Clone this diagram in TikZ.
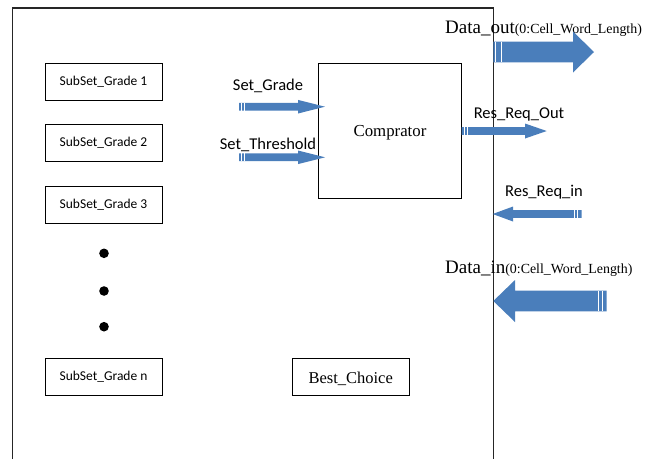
\documentclass[tikz,border=0pt]{standalone}
\usepackage{fontspec}
\setmainfont{Liberation Serif}
\newfontfamily\calfont{Carlito}
\definecolor{arrowblue}{RGB}{74,126,187}
\newcommand\blockarrow[7]{%
  % #1 tail x, #2 y, #3 head base x, #4 tip x, #5 shaft half, #6 head half, #7 stripe xs
  \fill[arrowblue] (#1,#2-#5) -- (#3,#2-#5) -- (#3,#2-#6) -- (#4,#2) -- (#3,#2+#6) -- (#3,#2+#5) -- (#1,#2+#5) -- cycle;
  \foreach \sx in {#7} {\draw[white,line width=0.9pt] (\sx,#2-#5) -- (\sx,#2+#5);}%
}
\begin{document}
\begin{tikzpicture}[x=1pt,y=-1pt,
  sbox/.style={draw=black,line width=0.8pt,minimum width=117pt,minimum height=37pt,inner sep=0pt,font=\calfont\fontsize{13.5}{15}\selectfont},
  tbox/.style={draw=black,line width=0.8pt,inner sep=0pt,font=\fontsize{16.6}{19}\selectfont},
  clabel/.style={font=\calfont\fontsize{16.5}{19}\selectfont,inner sep=0pt,anchor=base},
  dlabel/.style={inner sep=0pt,anchor=base west}]
\useasboundingbox (0,0) rectangle (652,459);
% outer frame
\draw[black!85,line width=1.1pt] (12.5,459) -- (12.5,8) -- (493.5,8) -- (493.5,459);
% subset boxes
\node[sbox] (s1) at (103.5,81.8) {SubSet\_Grade 1};
\node[sbox] (s2) at (103.5,143) {SubSet\_Grade 2};
\node[sbox] (s3) at (103.5,204.7) {SubSet\_Grade 3};
\node[sbox] (sn) at (103.5,376.5) {SubSet\_Grade n};
% dots
\fill (104,253.3) circle (4.8);
\fill (104,291) circle (4.8);
\fill (104,326.7) circle (4.8);
% comparator
\node[tbox,minimum width=143.3pt,minimum height=135pt] (cmp) at (389.7,130.8) {};
\node[inner sep=0pt,anchor=base,font=\fontsize{16.8}{19}\selectfont] (cmpt) at (390,136) {Comprator};
\node[tbox,minimum width=117.3pt,minimum height=37pt] (best) at (350.7,376.5) {};
\node[inner sep=0pt,anchor=base,font=\fontsize{16.5}{19}\selectfont] (bestt) at (350.7,383.3) {Best\_Choice};
% labels
\node[clabel] (lg) at (268,90) {Set\_Grade};
\node[clabel] (lt) at (268,149) {Set\_Threshold};
\node[clabel] (lro) at (519,118.3) {Res\_Req\_Out};
\node[clabel] (lri) at (544,196) {Res\_Req\_in};
\node[dlabel] (ldo) at (445,33) {\fontsize{19}{22}\selectfont Data\_out\fontsize{13.9}{16}\selectfont(0:Cell\_Word\_Length)};
\node[dlabel] (ldi) at (445,273) {\fontsize{19}{22}\selectfont Data\_in\fontsize{13.9}{16}\selectfont(0:Cell\_Word\_Length)};
% arrows
\coordinate (ag) at (239,106.7);
\coordinate (at) at (239,157.3);
\blockarrow{239}{106.7}{298}{325}{3.9}{6.8}{241.4,244.4}
\blockarrow{239}{157.3}{298}{325}{3.9}{6.8}{241.4,244.4}
\blockarrow{461.7}{131}{525}{546.7}{3.9}{7.5}{464.2,467.5}
\blockarrow{581.7}{214}{513}{492.7}{3.9}{7.5}{577.3,574}
\blockarrow{493.3}{52}{573}{594}{10.3}{20.5}{495.8,501}
\blockarrow{606.7}{301}{515}{493.3}{10.3}{21}{602.4,598.4}
\end{tikzpicture}
\end{document}
